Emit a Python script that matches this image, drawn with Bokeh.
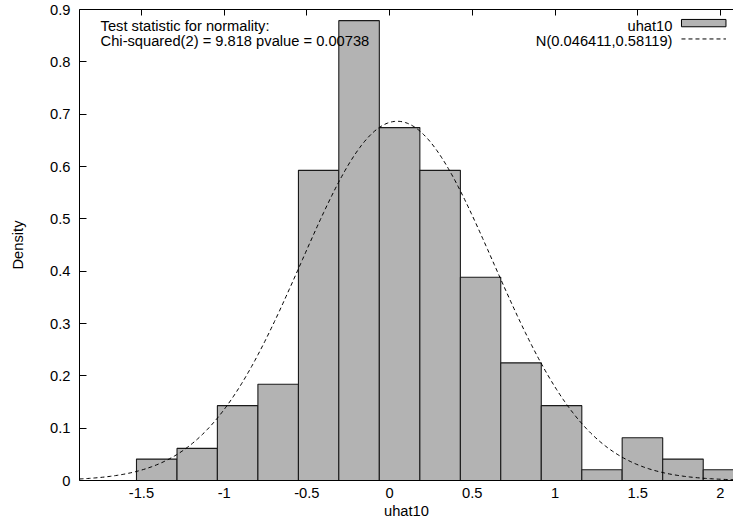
import numpy as np
from bokeh.plotting import figure
from bokeh.models import Range1d, LinearAxis, FixedTicker, Label, BoxAnnotation, Arrow
from bokeh.embed import file_html
from bokeh.resources import INLINE

# ---- data ----
bin_edges = [-1.530, -1.285, -1.041, -0.796, -0.551, -0.307, -0.062, 0.183,
             0.428, 0.672, 0.917, 1.162, 1.406, 1.651, 1.896, 2.140]
density = [0.0409, 0.0613, 0.1430, 0.1839, 0.5926, 0.8787, 0.6743, 0.5926,
           0.3883, 0.2248, 0.1430, 0.0204, 0.0817, 0.0409, 0.0204]
normal_mean = 0.046411
normal_sd = 0.58119
x_ticks = [-1.5, -1.0, -0.5, 0.0, 0.5, 1.0, 1.5, 2.0]
x_tick_labels = ["-1.5", "-1", "-0.5", "0", "0.5", "1", "1.5", "2"]
y_ticks = [0.0, 0.1, 0.2, 0.3, 0.4, 0.5, 0.6, 0.7, 0.8, 0.9]
y_tick_labels = ["0", "0.1", "0.2", "0.3", "0.4", "0.5", "0.6", "0.7", "0.8", "0.9"]
series_name = "uhat10"
curve_name = "N(0.046411,0.58119)"
stat_lines = ["Test statistic for normality:",
              "Chi-squared(2) = 9.818 pvalue = 0.00738"]

FONT = "Liberation Sans"
FS = "14.7px"
X0, X1 = -1.8745, 2.079

p = figure(width=733, height=527, output_backend="svg", toolbar_location=None,
           x_range=Range1d(X0, X1), y_range=Range1d(0, 0.9),
           min_border_left=79, min_border_right=0, min_border_top=9,
           min_border_bottom=47)
p.outline_line_color = None
p.grid.visible = False
p.background_fill_color = "white"
p.border_fill_color = "white"

# bars
p.quad(left=bin_edges[:-1], right=bin_edges[1:], top=density, bottom=0,
       fill_color="#b3b3b3", line_color="#1a1a1a", line_width=1.1)

# normal density curve defined by the legend's parameters
xs = np.linspace(X0, X1, 400)
ys = np.exp(-0.5 * ((xs - normal_mean) / normal_sd) ** 2) / (normal_sd * np.sqrt(2 * np.pi))
p.line(xs, ys, line_color="black", line_width=1, line_dash="4 3")

# axes
xa = p.xaxis[0]
xa.ticker = FixedTicker(ticks=x_ticks)
xa.major_label_overrides = dict(zip(x_ticks, x_tick_labels))
xa.major_tick_in = 0
xa.major_tick_out = 0
xa.minor_tick_in = 0
xa.minor_tick_out = 0
xa.major_label_standoff = 7
xa.major_label_text_font = FONT
xa.major_label_text_font_size = FS
xa.major_label_text_color = "black"
xa.axis_line_color = "black"
xa.axis_label = series_name
xa.axis_label_standoff = 2
xa.axis_label_text_font = FONT
xa.axis_label_text_font_size = FS
xa.axis_label_text_font_style = "normal"
xa.axis_label_text_color = "black"

ya = p.yaxis[0]
ya.ticker = FixedTicker(ticks=y_ticks)
ya.major_label_overrides = dict(zip(y_ticks, y_tick_labels))
ya.major_tick_in = 7
ya.major_tick_out = 0
ya.minor_tick_in = 0
ya.minor_tick_out = 0
ya.major_label_standoff = 9
ya.major_label_text_font = FONT
ya.major_label_text_font_size = FS
ya.major_label_text_color = "black"
ya.axis_line_color = "black"
ya.axis_label = "Density"
ya.axis_label_standoff = 21
ya.axis_label_text_font = FONT
ya.axis_label_text_font_size = FS
ya.axis_label_text_font_style = "normal"
ya.axis_label_text_color = "black"

top = LinearAxis(ticker=FixedTicker(ticks=x_ticks),
                 major_label_overrides={t: "" for t in x_ticks},
                 major_label_text_font_size="0px", major_label_standoff=0,
                 major_tick_in=6, major_tick_out=0, minor_tick_in=0, minor_tick_out=0,
                 axis_line_color="black", major_tick_line_color="black")
p.add_layout(top, "above")

# test statistic text
p.add_layout(Label(x=-1.747, y=0.8694, text=stat_lines[0], text_align="left",
                   text_baseline="alphabetic", text_font=FONT, text_font_size=FS,
                   text_color="black"))
p.add_layout(Label(x=-1.747, y=0.8389, text=stat_lines[1], text_align="left",
                   text_baseline="alphabetic", text_font=FONT, text_font_size=FS,
                   text_color="black"))

# legend (text right, sample to the right)
p.add_layout(Label(x=1.710, y=0.8694, text=series_name, text_align="right",
                   text_baseline="alphabetic", text_font=FONT, text_font_size=FS,
                   text_color="black"))
p.add_layout(Label(x=1.710, y=0.8389, text=curve_name, text_align="right",
                   text_baseline="alphabetic", text_font=FONT, text_font_size=FS,
                   text_color="black"))
p.add_layout(BoxAnnotation(left=1.7645, right=2.0335, bottom=0.8670, top=0.8810,
                           fill_color="#b3b3b3", fill_alpha=1.0,
                           line_color="black", line_width=1, line_alpha=1.0,
                           level="annotation"))
p.add_layout(Arrow(end=None, x_start=1.7645, x_end=2.0335, y_start=0.8437, y_end=0.8437,
                   line_color="black", line_width=1, line_dash="4 3"))

open("out.html", "w").write(file_html(p, INLINE))
